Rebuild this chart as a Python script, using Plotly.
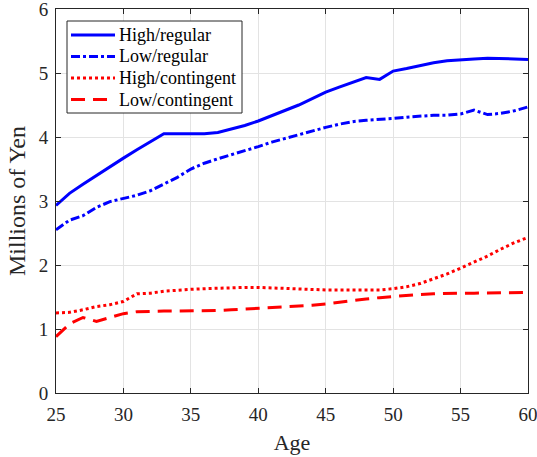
import plotly.graph_objects as go

ages = list(range(25, 61))
high_regular = [2.93, 3.12, 3.26, 3.40, 3.54, 3.67, 3.80, 3.93, 4.05, 4.05, 4.05, 4.05, 4.07, 4.12, 4.18, 4.25,
                4.33, 4.41, 4.50, 4.60, 4.70, 4.78, 4.86, 4.93, 4.90, 5.03, 5.07, 5.12, 5.16, 5.19, 5.21, 5.22,
                5.23, 5.23, 5.22, 5.21]
low_regular = [2.55, 2.70, 2.77, 2.90, 2.99, 3.04, 3.09, 3.16, 3.26, 3.37, 3.50, 3.59, 3.66, 3.72, 3.79, 3.85,
               3.92, 3.98, 4.04, 4.10, 4.15, 4.20, 4.24, 4.26, 4.27, 4.29, 4.31, 4.33, 4.34, 4.34, 4.36, 4.42,
               4.35, 4.37, 4.41, 4.47]
high_contingent = [1.25, 1.26, 1.30, 1.35, 1.38, 1.43, 1.55, 1.56, 1.59, 1.61, 1.62, 1.63, 1.64, 1.645, 1.65, 1.65,
                   1.64, 1.63, 1.62, 1.61, 1.61, 1.61, 1.61, 1.61, 1.61, 1.63, 1.66, 1.71, 1.78, 1.86, 1.95, 2.04,
                   2.14, 2.25, 2.35, 2.43]
low_contingent = [0.88, 1.08, 1.18, 1.12, 1.18, 1.24, 1.27, 1.28, 1.28, 1.28, 1.28, 1.28, 1.29, 1.30, 1.31, 1.32,
                  1.34, 1.35, 1.36, 1.37, 1.39, 1.42, 1.45, 1.47, 1.49, 1.51, 1.53, 1.54, 1.55, 1.56, 1.56, 1.56,
                  1.56, 1.57, 1.57, 1.57]
series_names = ["High/regular", "Low/regular", "High/contingent", "Low/contingent"]
x_ticks = [25, 30, 35, 40, 45, 50, 55, 60]
y_ticks = [0, 1, 2, 3, 4, 5, 6]

series_values = [high_regular, low_regular, high_contingent, low_contingent]
colors = ["#0000ff", "#0000ff", "#ff0000", "#ff0000"]
dashes = ["solid", "9px,3px,3px,3px", "3px,3px", "14px,8px"]

fig = go.Figure()
for name, vals, color, dash in zip(series_names, series_values, colors, dashes):
    fig.add_trace(go.Scatter(x=ages, y=vals, mode="lines", name=name, showlegend=False,
                             line=dict(color=color, width=3, dash=dash)))

font = "Liberation Serif"
ink = "#262626"
axis_common = dict(showline=True, linecolor=ink, linewidth=1, mirror="ticks",
                   ticks="inside", ticklen=5, tickcolor=ink, automargin=False,
                   ticklabeloverflow="allow",
                   showgrid=True, gridcolor="#e3e3e3", gridwidth=1, zeroline=False,
                   tickfont=dict(family=font, size=19, color=ink))
fig.update_xaxes(range=[25, 60], tickvals=x_ticks, ticklabelstandoff=4,
                 title=dict(text="Age", font=dict(family=font, size=22, color=ink), standoff=10),
                 **axis_common)
fig.update_yaxes(range=[0, 6], tickvals=y_ticks, ticklabelstandoff=3,
                 title=dict(text="Millions of Yen", font=dict(family=font, size=24, color=ink), standoff=6),
                 **axis_common)

# Hand-drawn legend box (MATLAB style: tight rows)
W, H, L, T = 472.0, 384.0, 56.0, 9.0
px = lambda v: (v - L) / W
py = lambda v: (T + H - v) / H
shapes = [dict(type="rect", xref="paper", yref="paper", x0=px(67), x1=px(242), y0=py(113), y1=py(21),
               line=dict(color=ink, width=1), fillcolor="white", layer="above")]
annotations = []
row_y = [35, 56.5, 78, 99.5]
for name, color, dash, ry in zip(series_names, colors, dashes, row_y):
    shapes.append(dict(type="line", xref="paper", yref="paper", x0=px(71), x1=px(115), y0=py(ry), y1=py(ry),
                       line=dict(color=color, width=3, dash=dash), layer="above"))
    annotations.append(dict(xref="paper", yref="paper", x=px(117), y=py(ry), xanchor="left", yanchor="middle",
                            text=name, showarrow=False, font=dict(family=font, size=18, color="#000000")))

fig.update_layout(
    width=537, height=457,
    margin=dict(l=56, r=9, t=9, b=64),
    plot_bgcolor="white", paper_bgcolor="white",
    font=dict(family=font, color=ink),
    showlegend=False,
    shapes=shapes,
    annotations=annotations,
)
fig.write_html("out.html", config={"displayModeBar": False},
               post_script="document.body.style.margin='0';document.body.style.padding='0';")
